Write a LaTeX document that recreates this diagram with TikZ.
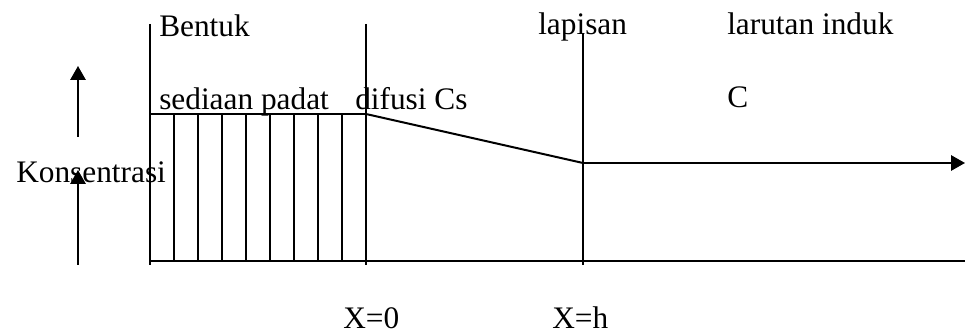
\documentclass[tikz,border=0pt]{standalone}
\usepackage{fontspec}
\setmainfont{Liberation Serif}
\usetikzlibrary{arrows.meta}
\begin{document}
\begin{tikzpicture}[x=0.75pt,y=-0.75pt,
  ln/.style={line width=1.5pt,black},
  arr/.style={ln,-{Triangle[length=10.5pt,width=11.5pt]}},
  lbl/.style={anchor=base west,inner sep=0pt,font=\fontsize{23.5pt}{28pt}\selectfont}]
\useasboundingbox (0,0) rectangle (965,334);
% named points
\coordinate (lt) at (150,24);
\coordinate (lb) at (150,265);
\coordinate (zt) at (366,24);
\coordinate (zb) at (366,265);
\coordinate (ht) at (583,33);
\coordinate (hb) at (583,265);
\coordinate (boxl) at (150,114);
\coordinate (cs) at (366,114);
\coordinate (ch) at (583,163);
\coordinate (aend) at (965,163);
\coordinate (b0) at (150,261);
\coordinate (b1) at (965,261);
\coordinate (ua0) at (78,137);
\coordinate (ua1) at (78,66);
\coordinate (la0) at (78,265);
\coordinate (la1) at (78,170);
% texts
\node[lbl] (t1) at (159,37) {Bentuk};
\node[lbl] (t2) at (159,110) {sediaan padat};
\node[lbl] (t3) at (355,110) {difusi Cs};
\node[lbl] (t4) at (538,35) {lapisan};
\node[lbl] (t5) at (727,35) {larutan induk};
\node[lbl] (t6) at (727,108) {C};
\node[lbl] (t7) at (16,183) {Konsentrasi};
\node[lbl] (t8) at (343,329) {X=0};
\node[lbl] (t9) at (552,329) {X=h};
% frame lines
\draw[ln] (lt) -- (lb);
\draw[ln] (zt) -- (zb);
\draw[ln] (ht) -- (hb);
\draw[ln] (boxl) -- (cs);
\foreach \x in {174,198,222,246,270,294,318,342} \draw[ln] (\x,114) -- (\x,261);
\draw[ln] (cs) -- (ch);
\draw[arr] (ch) -- (aend);
\draw[ln] (b0) -- (b1);
\draw[arr] (ua0) -- (ua1);
\draw[arr] (la0) -- (la1);
\end{tikzpicture}
\end{document}
